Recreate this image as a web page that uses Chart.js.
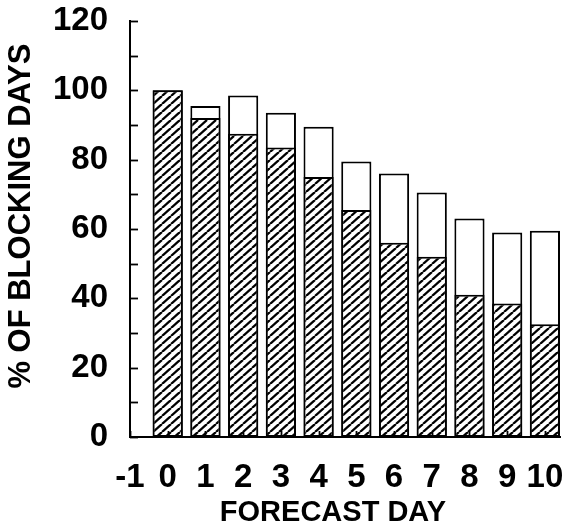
<!DOCTYPE html>
<html>
<head>
<meta charset="utf-8">
<script src="https://cdn.jsdelivr.net/npm/chart.js@4/dist/chart.umd.min.js"></script>
<style>
  html, body { margin: 0; padding: 0; background: #ffffff; }
  #wrap { width: 568px; height: 531px; }
</style>
</head>
<body>
<div id="wrap"><canvas id="c" width="568" height="531"></canvas></div>
<script>
// ---- data ----
const forecastDays = [0, 1, 2, 3, 4, 5, 6, 7, 8, 9, 10];
const hatchedPct   = [100, 92, 87.5, 83.5, 75, 65.5, 56, 52, 41, 38.5, 32.5];
const totalPct     = [100, 95.5, 98.5, 93.5, 89.5, 79.5, 76, 70.5, 63, 59, 59.5];
const xTickLabels  = [-1, 0, 1, 2, 3, 4, 5, 6, 7, 8, 9, 10];
const yTickLabels  = [0, 20, 40, 60, 80, 100, 120];
const yMinorTicks  = [10, 30, 50, 70, 90, 110];

const FONT = '"Liberation Sans", Arial, Helvetica, sans-serif';

// diagonal hatch pattern
function makeHatch() {
  const w = 9, h = 8;
  const c = document.createElement('canvas');
  c.width = w; c.height = h;
  const g = c.getContext('2d');
  g.fillStyle = '#ffffff';
  g.fillRect(0, 0, w, h);
  g.strokeStyle = '#000000';
  g.lineWidth = 2.3;
  for (let k = -1; k <= 1; k++) {
    g.beginPath();
    g.moveTo(k * w, h);
    g.lineTo(k * w + w, 0);
    g.stroke();
  }
  return g.createPattern(c, 'repeat');
}
const hatch = makeHatch();

const inwardTicks = {
  id: 'inwardTicks',
  afterDraw(chart) {
    const ctx = chart.ctx;
    const xs = chart.scales.x, ys = chart.scales.y;
    const left = chart.chartArea.left, bottom = chart.chartArea.bottom;
    ctx.save();
    ctx.strokeStyle = '#000';
    ctx.lineWidth = 1.8;
    yTickLabels.concat(yMinorTicks).forEach(v => {
      const py = Math.round(ys.getPixelForValue(v)) + 0.5;
      ctx.beginPath();
      ctx.moveTo(left, py);
      ctx.lineTo(left + 8, py);
      ctx.stroke();
    });
    xTickLabels.forEach(v => {
      const px = Math.round(xs.getPixelForValue(v)) + 0.5;
      ctx.beginPath();
      ctx.moveTo(px, bottom);
      ctx.lineTo(px, bottom - 6);
      ctx.stroke();
    });
    ctx.restore();
  }
};

new Chart(document.getElementById('c'), {
  type: 'bar',
  data: {
    datasets: [
      {
        label: 'hatched',
        data: forecastDays.map((d, i) => ({ x: d, y: hatchedPct[i] })),
        backgroundColor: hatch,
        borderColor: '#000',
        borderWidth: 2,
        borderSkipped: false,
        grouped: false,
        categoryPercentage: 0.8,
        barPercentage: 1.0
      },
      {
        label: 'total',
        data: forecastDays.map((d, i) => ({ x: d, y: totalPct[i] })),
        backgroundColor: '#ffffff',
        borderColor: '#000',
        borderWidth: 2,
        borderSkipped: false,
        grouped: false,
        categoryPercentage: 0.8,
        barPercentage: 1.0
      }
    ]
  },
  options: {
    responsive: false,
    animation: false,
    events: [],
    layout: { padding: { top: 21, right: 8, left: 0, bottom: 0 } },
    plugins: { legend: { display: false }, tooltip: { enabled: false } },
    scales: {
      x: {
        type: 'linear',
        min: -1,
        max: 10.4,
        offset: false,
        grid: { display: false, drawTicks: false, offset: false },
        border: { display: true, color: '#000', width: 2 },
        afterBuildTicks: s => { s.ticks = xTickLabels.map(v => ({ value: v })); },
        afterFit: s => { s.height = 94; s.paddingLeft = 0; s.paddingRight = 0; },
        ticks: {
          autoSkip: false, maxRotation: 0, minRotation: 0,
          padding: 21, color: '#000',
          font: { family: FONT, size: 33, weight: 'bold' }
        },
        title: {
          display: true, text: 'FORECAST DAY   ', color: '#000',
          padding: { top: 0, bottom: 1 },
          font: { family: FONT, size: 29, weight: 'bold' }
        }
      },
      y: {
        min: 0,
        max: 120,
        grid: { display: false, drawTicks: false },
        border: { display: true, color: '#000', width: 2 },
        afterBuildTicks: s => { s.ticks = yTickLabels.map(v => ({ value: v })); },
        afterFit: s => { s.width = 130; s.paddingTop = 0; s.paddingBottom = 0; },
        ticks: {
          padding: 22, color: '#000',
          font: { family: FONT, size: 33, weight: 'bold' }
        },
        title: {
          display: true, text: '   % OF BLOCKING DAYS', color: '#000',
          padding: { top: 3, bottom: 0 },
          font: { family: FONT, size: 31, weight: 'bold' }
        }
      }
    }
  },
  plugins: [inwardTicks]
});
</script>
</body>
</html>
